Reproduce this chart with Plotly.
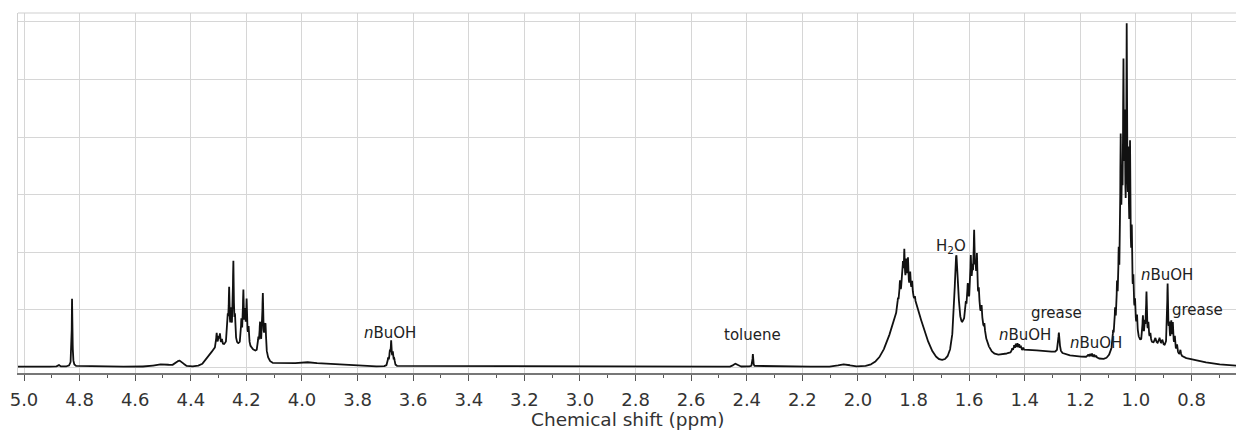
import numpy as np
import plotly.graph_objects as go

# --- 1H NMR peak table -------------------------------------------------------
# Sharp resonances (Lorentzian): position (ppm), height, half-width (ppm)
line_ppm = [
    4.875, 4.827,
    4.307, 4.300, 4.295, 4.288,
    4.267, 4.262, 4.255, 4.247, 4.241,
    4.218, 4.211, 4.205, 4.199, 4.192,
    4.157, 4.151, 4.141, 4.134, 4.131,
    3.690, 3.684, 3.679, 3.673, 3.668,
    2.378,
    1.856, 1.849, 1.842, 1.838, 1.833, 1.826, 1.820, 1.812, 1.805, 1.795,
    1.646,
    1.612, 1.605, 1.594, 1.588, 1.582, 1.577, 1.572, 1.565, 1.555, 1.545,
    1.445, 1.438, 1.432, 1.426, 1.420, 1.414, 1.405,
    1.277,
    1.172, 1.165, 1.158, 1.150, 1.143,
    1.082, 1.075, 1.068, 1.062, 1.055, 1.050, 1.045, 1.040, 1.033, 1.027,
    1.021, 1.015, 1.009, 1.003, 0.996,
    0.975, 0.968, 0.962, 0.955, 0.948,
    0.930, 0.915, 0.905,
    0.886, 0.880, 0.873, 0.867, 0.860, 0.852, 0.840,
]
line_height = [
    0.03, 1.20,
    0.25, 0.15, 0.20, 0.10,
    0.40, 0.90, 0.50, 1.40, 0.40,
    0.40, 0.90, 0.50, 0.75, 0.30,
    0.20, 0.45, 0.95, 0.30, 0.40,
    0.12, 0.22, 0.40, 0.20, 0.10,
    0.22,
    0.15, 0.35, 0.35, 0.45, 0.70, 0.50, 0.55, 0.35, 0.25, 0.10,
    1.75,
    0.20, 0.40, 0.70, 0.40, 1.05, 0.40, 0.75, 0.30, 0.25, 0.15,
    0.06, 0.10, 0.12, 0.12, 0.10, 0.08, 0.05,
    0.36,
    0.04, 0.05, 0.06, 0.05, 0.04,
    0.20, 0.40, 0.60, 0.90, 2.60, 1.50, 3.50, 2.40, 4.30, 2.00,
    2.50, 1.20, 0.60, 0.40, 0.30,
    0.45, 0.30, 0.85, 0.30, 0.15,
    0.10, 0.12, 0.10,
    1.10, 0.35, 0.45, 0.45, 0.25, 0.15, 0.10,
]
line_width = (
    [0.003, 0.0015]
    + [0.002] * 19
    + [0.002] * 5
    + [0.0015]
    + [0.002] * 10
    + [0.009]
    + [0.002] * 10
    + [0.002] * 7
    + [0.003]
    + [0.002] * 5
    + [0.0018] * 15
    + [0.002] * 5
    + [0.003] * 3
    + [0.002] * 7
)

# Broad envelopes (Gaussian): centre (ppm), height, sigma (ppm)
hump_ppm = [4.50, 4.44, 4.32, 4.27, 4.19, 4.14, 4.00, 3.97, 2.44, 2.05,
            1.828, 1.78, 1.585, 1.42, 1.30, 1.15, 1.04, 0.95, 0.85]
hump_height = [0.04, 0.10, 0.12, 0.33, 0.25, 0.15, 0.06, 0.02, 0.05, 0.04,
               1.15, 0.20, 1.05, 0.20, 0.12, 0.08, 1.10, 0.30, 0.12]
hump_sigma = [0.03, 0.012, 0.02, 0.04, 0.035, 0.012, 0.12, 0.015, 0.008, 0.02,
              0.048, 0.035, 0.03, 0.13, 0.10, 0.05, 0.025, 0.06, 0.10]

baseline_level = 0.015

# Peak assignments: label, ppm, intensity
label_text = ["<i>n</i>BuOH", "toluene", "H<sub>2</sub>O", "<i>n</i>BuOH",
              "grease", "<i>n</i>BuOH", "<i>n</i>BuOH", "grease"]
label_ppm = [3.683, 2.381, 1.665, 1.399, 1.284, 1.144, 0.889, 0.777]
label_y = [0.60, 0.56, 2.10, 0.56, 0.95, 0.43, 1.61, 1.00]

x_ticks = [round(5.0 - 0.2 * i, 1) for i in range(22)]

# --- spectrum ---------------------------------------------------------------
ppm = np.arange(0.62, 5.04, 0.0004)
intensity = np.full_like(ppm, baseline_level)
for c, h, w in zip(line_ppm, line_height, line_width):
    intensity += h * w * w / ((ppm - c) ** 2 + w * w)
for c, h, s in zip(hump_ppm, hump_height, hump_sigma):
    intensity += h * np.exp(-0.5 * ((ppm - c) / s) ** 2)

fig = go.Figure()
fig.add_trace(go.Scatter(
    x=ppm, y=intensity, mode="lines",
    line=dict(color="#111111", width=1.8),
    hoverinfo="skip", showlegend=False,
))

for t, xp, yp in zip(label_text, label_ppm, label_y):
    fig.add_annotation(
        x=xp, y=yp, xref="x", yref="y", text=t, showarrow=False,
        font=dict(family="DejaVu Sans", size=15, color="#222222"),
        xanchor="center", yanchor="middle",
    )

fig.add_annotation(
    x=0.5, y=-0.128, xref="paper", yref="paper",
    text="Chemical shift (ppm)", showarrow=False,
    font=dict(family="DejaVu Sans", size=18.5, color="#333333"),
    xanchor="center", yanchor="middle",
)

# frame line along the top
fig.add_shape(type="line", xref="paper", yref="paper", x0=0, x1=1, y0=1, y1=1,
              line=dict(color="#cfcfcf", width=1))

fig.update_layout(
    width=1236, height=435,
    margin=dict(l=18, r=0, t=13, b=62),
    paper_bgcolor="white", plot_bgcolor="white",
    font=dict(family="DejaVu Sans", color="#333333"),
)
fig.update_xaxes(
    range=[5.0216, 0.640], autorange=False,
    tickvals=x_ticks, ticktext=[f"{v:.1f}" for v in x_ticks],
    ticks="outside", ticklen=6, tickcolor="#555555", tickwidth=1,
    tickfont=dict(family="DejaVu Sans", size=18, color="#333333"),
    ticklabelstandoff=4,
    showgrid=True, gridcolor="#d6d6d6", gridwidth=1,
    showline=True, linecolor="#777777", linewidth=1.5,
    zeroline=False,
    minor=dict(tickvals=[round(4.9 - 0.2 * i, 1) for i in range(22)],
               ticks="outside", ticklen=3, tickcolor="#555555", showgrid=False),
)
fig.update_yaxes(
    range=[-0.095, 6.155], autorange=False,
    dtick=1, tick0=0, showticklabels=False, ticks="",
    showgrid=True, gridcolor="#d6d6d6", gridwidth=1,
    showline=True, linecolor="#cfcfcf", linewidth=1,
    zeroline=False,
)

fig.write_html("out.html")
